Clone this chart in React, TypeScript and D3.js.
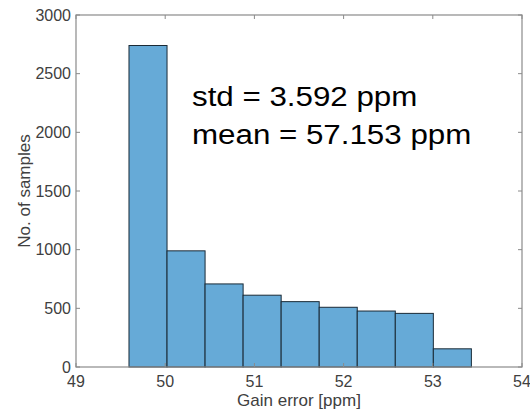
import React, {useEffect, useRef} from 'react'
import * as d3 from 'd3';

// histogram bins (edges) and counts
const binStart = 49.594;
const binWidth = 0.4265;
const counts = [2740, 990, 708, 612, 557, 509, 477, 457, 155];
const xTicks = [49, 50, 51, 52, 53, 54];
const yTicks = [0, 500, 1000, 1500, 2000, 2500, 3000];
const notes = ['std = 3.592 ppm', 'mean = 57.153 ppm'];

export default function App(){
    const svgRef = useRef<SVGSVGElement>(null);

    const W = 530, H = 416;
    const margin = {top: 15, right: 8, left: 76, bottom: 49};
    const width = W - margin.left - margin.right;
    const height = H - margin.top - margin.bottom;

    useEffect(() => {
        const svg = d3.select(svgRef.current);
        svg.selectAll("*").remove();

        const bins = counts.map((c, i) => ({x0: binStart + i * binWidth, x1: binStart + (i + 1) * binWidth, n: c}));

        const x = d3.scaleLinear().domain([49, 54]).range([0, width]);
        const y = d3.scaleLinear().domain([0, 3000]).range([height, 0]);

        const g = svg.append('g').attr('transform', `translate(${margin.left},${margin.top})`);

        g.selectAll('rect.bar')
            .data(bins)
            .join('rect')
            .attr('class', 'bar')
            .attr('x', d => x(d.x0))
            .attr('y', d => y(d.n))
            .attr('width', d => x(d.x1) - x(d.x0))
            .attr('height', d => height - y(d.n))
            .attr('fill', '#66aad7')
            .attr('stroke', '#1a2a36')
            .attr('stroke-width', 1);

        const font = 'Liberation Sans, Arial, sans-serif';
        const axisCol = '#8a8a8a';
        const tk = 4;

        // box
        g.append('rect')
            .attr('x', 0).attr('y', 0)
            .attr('width', width).attr('height', height)
            .attr('fill', 'none').attr('stroke', axisCol).attr('stroke-width', 1.2);

        // inward ticks all round
        xTicks.forEach(t => {
            g.append('line').attr('x1', x(t)).attr('x2', x(t)).attr('y1', height).attr('y2', height - tk).attr('stroke', axisCol);
            g.append('line').attr('x1', x(t)).attr('x2', x(t)).attr('y1', 0).attr('y2', tk).attr('stroke', axisCol);
        });
        yTicks.forEach(t => {
            g.append('line').attr('x1', 0).attr('x2', tk).attr('y1', y(t)).attr('y2', y(t)).attr('stroke', axisCol);
            g.append('line').attr('x1', width).attr('x2', width - tk).attr('y1', y(t)).attr('y2', y(t)).attr('stroke', axisCol);
        });

        g.selectAll('text.xt')
            .data(xTicks)
            .join('text')
            .attr('class', 'xt')
            .attr('x', d => x(d))
            .attr('y', height + 20)
            .attr('text-anchor', 'middle')
            .attr('font-family', font)
            .attr('font-size', 16)
            .attr('fill', '#404040')
            .text(d => d);

        g.selectAll('text.yt')
            .data(yTicks)
            .join('text')
            .attr('class', 'yt')
            .attr('x', -5)
            .attr('y', d => y(d))
            .attr('dy', '0.35em')
            .attr('text-anchor', 'end')
            .attr('font-family', font)
            .attr('font-size', 16)
            .attr('fill', '#404040')
            .text(d => d);

        g.append('text')
            .attr('x', width / 2)
            .attr('y', height + 39)
            .attr('text-anchor', 'middle')
            .attr('font-family', font)
            .attr('font-size', 17)
            .attr('fill', '#404040')
            .text('Gain error [ppm]');

        svg.append('text')
            .attr('transform', `translate(30,${margin.top + height / 2}) rotate(-90)`)
            .attr('text-anchor', 'middle')
            .attr('font-family', font)
            .attr('font-size', 17)
            .attr('fill', '#404040')
            .text('No. of samples');

        // annotation, slightly wide like the original
        svg.append('g')
            .attr('transform', 'translate(192,0) scale(1.16,1)')
            .selectAll('text')
            .data(notes)
            .join('text')
            .attr('x', 0)
            .attr('y', (d, i) => 106 + i * 38)
            .attr('font-family', font)
            .attr('font-size', 27)
            .attr('fill', '#000')
            .text(d => d);
    }, []);

    return (
        <svg
            ref={svgRef}
            width={W}
            height={H}
            style={{position: 'absolute', left: 0, top: 0, background: '#fff'}}
        >
        </svg>
    );
}
